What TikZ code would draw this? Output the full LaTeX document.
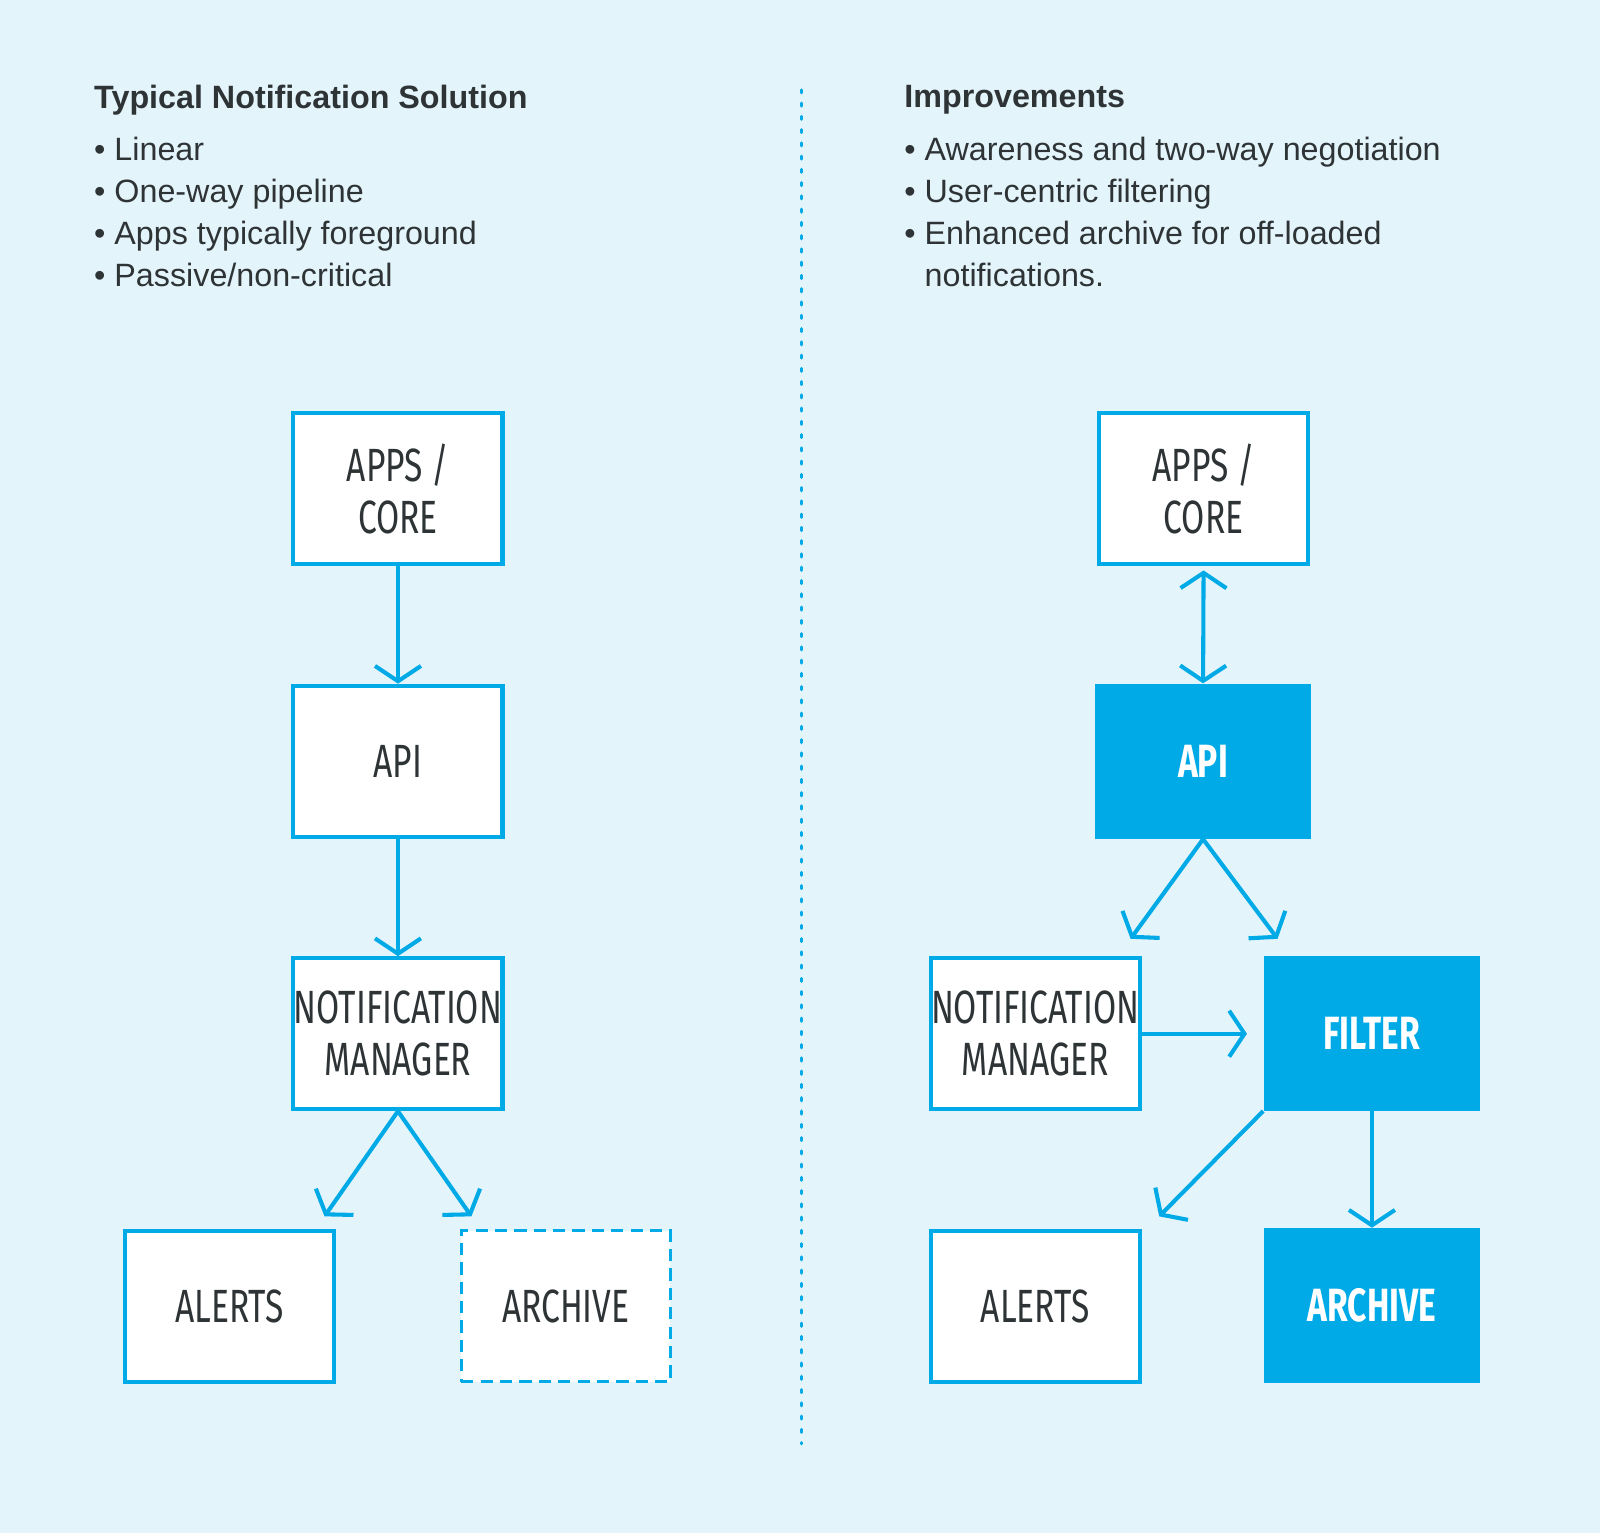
\documentclass[tikz,border=0pt]{standalone}
\usepackage{fontspec}
\setmainfont{Liberation Sans}
\newfontfamily\cond[FakeStretch=0.72]{Fira Sans}
\newfontfamily\condb[FakeStretch=0.72]{Fira Sans Bold}
\usetikzlibrary{arrows.meta}
\definecolor{bg}{HTML}{E4F4FB}
\definecolor{bl}{HTML}{00AAE7}
\definecolor{tx}{HTML}{2E3436}
\begin{document}
\begin{tikzpicture}[x=0.02cm,y=-0.02cm,
  box/.style={draw=bl,line width=0.08cm,fill=white,minimum width=4.1cm,minimum height=2.96cm,inner sep=0pt,align=center,font=\cond\fontsize{26}{29}\selectfont,text=tx},
  fbox/.style={fill=bl,minimum width=4.25cm,minimum height=3.04cm,inner sep=0pt,align=center,font=\condb\fontsize{26}{29}\selectfont,text=white},
  ar/.style={draw=bl,line width=0.08cm,-{Straight Barb[length=0.3cm,width=0.9cm,line width=0.08cm]}},
  hd/.style={anchor=west,font=\bfseries\fontsize{18}{22}\selectfont,text=tx,inner sep=0pt},
  bt/.style={anchor=north west,font=\fontsize{18}{23.5}\selectfont,text=tx,inner sep=0pt,align=left}]
\fill[bg] (0,0) rectangle (1568,1502);
\useasboundingbox (0,0) rectangle (1568,1502);
\draw[bl,line width=0.06cm,dash pattern=on 0.06cm off 0.2cm,line cap=round] (785,88) -- (785,1415);
% left text
\node[hd] (t1) at (92,98) {Typical Notification Solution};
\node[bt] (b1) at (92,134) {• Linear\\• One-way pipeline\\• Apps typically foreground\\• Passive/non-critical};
\node[hd] (t2) at (886,98) {Improvements};
\node[bt] (b2) at (886,134) {• Awareness and two-way negotiation\\• User-centric filtering\\• Enhanced archive for off-loaded\\\phantom{• }notifications.};
% left diagram
\node[box] (la) at (390,479) {APPS /\\CORE};
\node[box] (lp) at (390,746) {API};
\node[box] (ln) at (390,1013) {NOTIFICATION\\MANAGER};
\node[box] (lal) at (225,1280) {ALERTS};
\node[box,dash pattern=on 0.24cm off 0.14cm,line width=0.05cm] (lar) at (554.5,1280) {ARCHIVE};
\coordinate (c1) at (318,1192);
\coordinate (c2) at (462,1192);
\draw[ar] (la.south) -- (lp.north);
\draw[ar] (lp.south) -- (ln.north);
\draw[ar] (ln.south) -- (c1);
\draw[ar] (ln.south) -- (c2);
% right diagram
\node[box] (ra) at (1179.5,479) {APPS /\\CORE};
\node[fbox] (rp) at (1179,746) {API};
\node[box] (rn) at (1014.5,1013) {NOTIFICATION\\MANAGER};
\node[fbox] (rf) at (1344.5,1012.5) {FILTER};
\node[box] (ral) at (1014.5,1280) {ALERTS};
\node[fbox] (rar) at (1344.5,1279.5) {ARCHIVE};
\coordinate (d1) at (1108,920);
\coordinate (d2) at (1252,920);
\coordinate (d3) at (1222,1013);
\coordinate (d4) at (1136,1192);
\draw[ar,{Straight Barb[length=0.3cm,width=0.9cm,line width=0.08cm]}-{Straight Barb[length=0.3cm,width=0.9cm,line width=0.08cm]}] ([yshift=-0.08cm]ra.south) -- (rp.north);
\draw[ar] (rp.south) -- (d1);
\draw[ar] (rp.south) -- (d2);
\draw[ar] (rn.east) -- (d3);
\draw[ar] (rf.south west) -- (d4);
\draw[ar] (rf.south) -- (rar.north);
\end{tikzpicture}
\end{document}
